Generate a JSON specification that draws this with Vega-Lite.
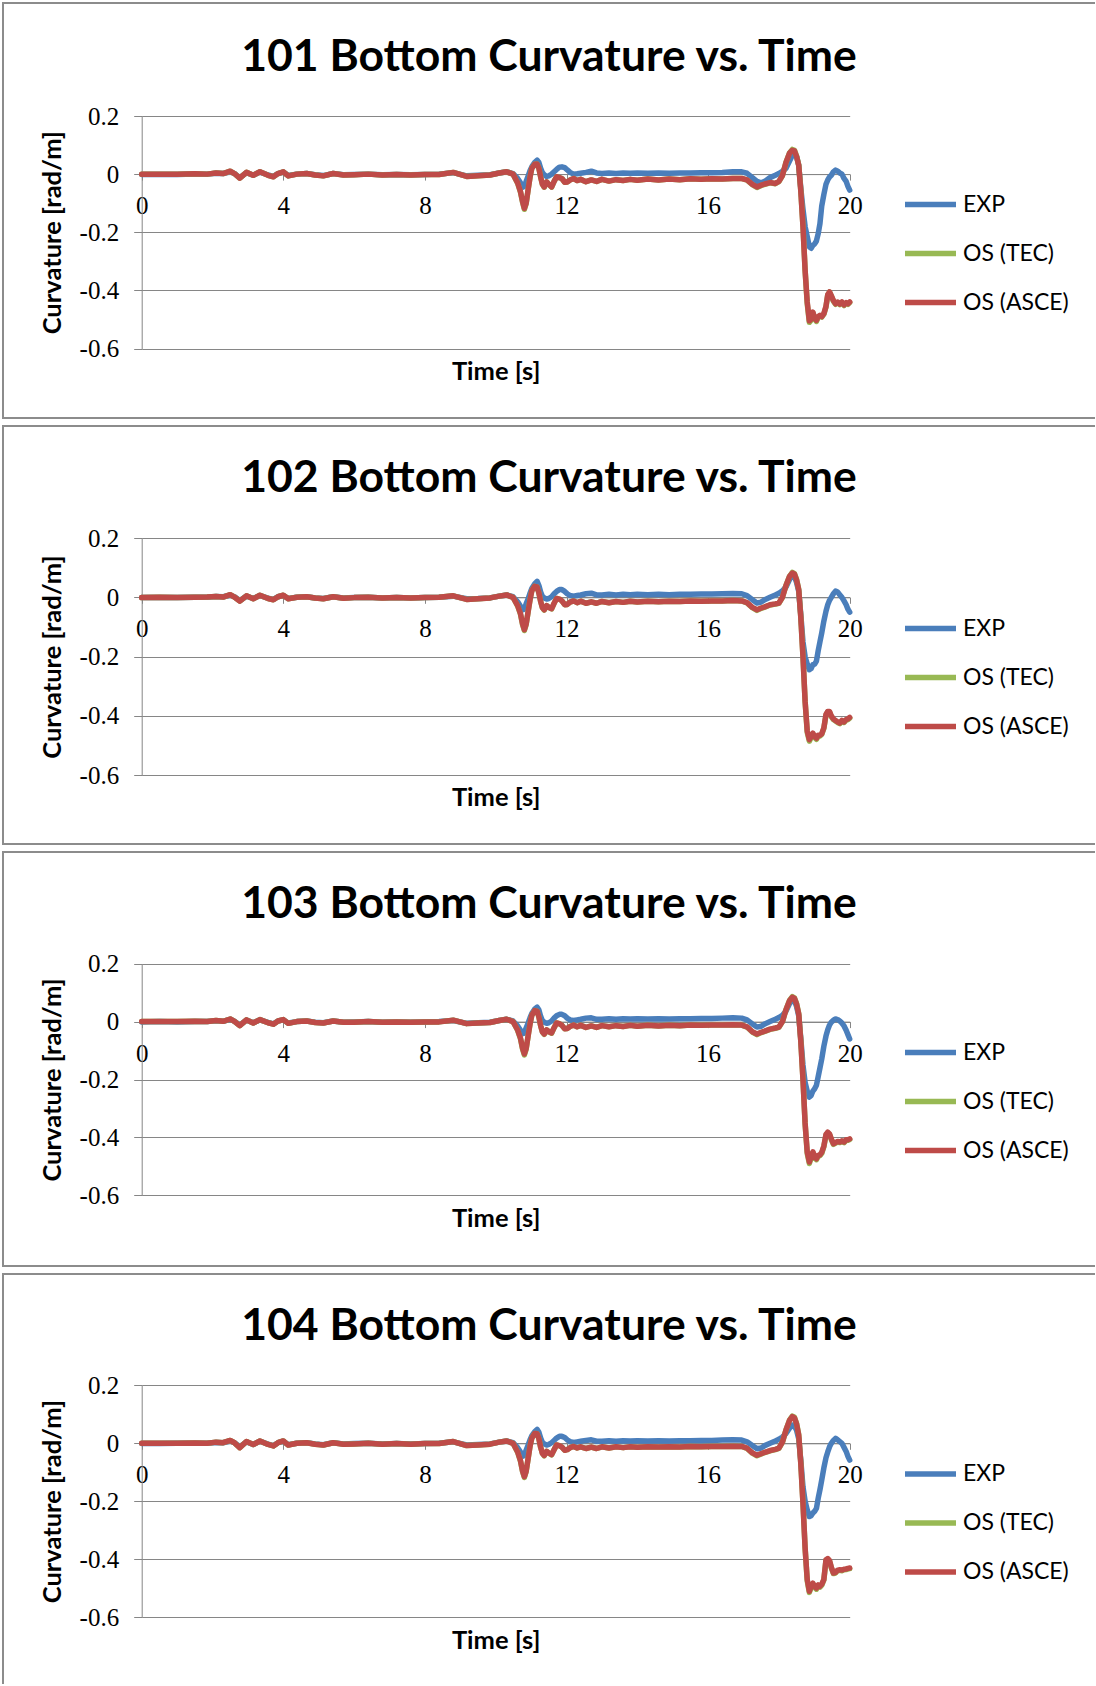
{
"$schema": "https://vega.github.io/schema/vega-lite/v6.json",
"padding": {"left": 2, "top": 2, "right": 0, "bottom": 0},
"background": "white",
"spacing": 6,
"resolve": {"scale": {"color": "independent", "x": "independent", "y": "independent"}},
"config": {
  "view": {"stroke": "#8c8c8c", "strokeWidth": 2},
  "font": "Lato",
  "axis": {"domainColor": "#868686", "tickColor": "#868686", "gridColor": "#868686", "domainWidth": 1, "tickWidth": 1, "gridWidth": 1, "gridOpacity": 1, "labelFont": "Liberation Serif", "labelFontSize": 25, "labelColor": "#000000", "titleFont": "Lato", "titleFontSize": 25.5, "titleFontWeight": "bold", "titleColor": "#000000", "labelOverlap": false, "labelFlush": false},
  "legend": {"symbolType": "stroke", "symbolSize": 2601, "symbolStrokeWidth": 5, "clipHeight": 47, "rowPadding": 2, "labelFont": "Lato", "labelFontSize": 23, "labelColor": "#000000", "labelOffset": 4, "padding": 0, "orient": "none"},
  "title": {"font": "Lato", "fontSize": 44.5, "fontWeight": "bold", "color": "#000000", "anchor": "middle", "frame": "group", "offset": 0, "baseline": "alphabetic"},
  "line": {"strokeWidth": 5.5, "strokeJoin": "round", "strokeCap": "round"}
},
"datasets": {
"p1": [
{"t":0,"EXP":-0.001,"TEC":0,"ASCE":0},{"t":0.5,"EXP":-0.001,"TEC":0,"ASCE":0},{"t":1,"EXP":-0.001,"TEC":0,"ASCE":0},{"t":1.5,"EXP":0,"TEC":0.001,"ASCE":0.001},{"t":1.85,"EXP":0,"TEC":0,"ASCE":0},{"t":2.1,"EXP":0.003,"TEC":0.004,"ASCE":0.004},{"t":2.3,"EXP":0.002,"TEC":0.002,"ASCE":0.002},{"t":2.5,"EXP":0.008,"TEC":0.01,"ASCE":0.01},{"t":2.62,"EXP":0.002,"TEC":0.002,"ASCE":0.002},{"t":2.77,"EXP":-0.012,"TEC":-0.014,"ASCE":-0.014},{"t":2.96,"EXP":0.005,"TEC":0.006,"ASCE":0.006},{"t":3.15,"EXP":-0.004,"TEC":-0.004,"ASCE":-0.004},{"t":3.34,"EXP":0.007,"TEC":0.008,"ASCE":0.008},{"t":3.57,"EXP":-0.003,"TEC":-0.004,"ASCE":-0.004},{"t":3.72,"EXP":-0.008,"TEC":-0.009,"ASCE":-0.009},{"t":3.85,"EXP":0.002,"TEC":0.002,"ASCE":0.002},{"t":4,"EXP":0.007,"TEC":0.008,"ASCE":0.008},{"t":4.14,"EXP":-0.005,"TEC":-0.006,"ASCE":-0.006},{"t":4.38,"EXP":0,"TEC":0,"ASCE":0},{"t":4.66,"EXP":0.002,"TEC":0.002,"ASCE":0.002},{"t":4.9,"EXP":-0.002,"TEC":-0.003,"ASCE":-0.003},{"t":5.13,"EXP":-0.005,"TEC":-0.006,"ASCE":-0.006},{"t":5.41,"EXP":0.002,"TEC":0.002,"ASCE":0.002},{"t":5.7,"EXP":-0.002,"TEC":-0.003,"ASCE":-0.003},{"t":6,"EXP":-0.001,"TEC":-0.002,"ASCE":-0.002},{"t":6.4,"EXP":0,"TEC":0,"ASCE":0},{"t":6.8,"EXP":-0.002,"TEC":-0.003,"ASCE":-0.003},{"t":7.2,"EXP":-0.001,"TEC":-0.001,"ASCE":-0.001},{"t":7.6,"EXP":-0.002,"TEC":-0.003,"ASCE":-0.003},{"t":8,"EXP":-0.001,"TEC":-0.001,"ASCE":-0.001},{"t":8.4,"EXP":0,"TEC":-0.001,"ASCE":-0.001},{"t":8.8,"EXP":0.005,"TEC":0.006,"ASCE":0.006},{"t":9.18,"EXP":-0.006,"TEC":-0.008,"ASCE":-0.008},{"t":9.5,"EXP":-0.004,"TEC":-0.006,"ASCE":-0.006},{"t":9.84,"EXP":-0.002,"TEC":-0.003,"ASCE":-0.003},{"t":10.1,"EXP":0.004,"TEC":0.004,"ASCE":0.004},{"t":10.31,"EXP":0.008,"TEC":0.008,"ASCE":0.008},
{"t":10.49,"EXP":0.002,"TEC":0,"ASCE":0},{"t":10.62,"EXP":-0.015,"TEC":-0.031,"ASCE":-0.03},{"t":10.7,"EXP":-0.03,"TEC":-0.062,"ASCE":-0.06},{"t":10.76,"EXP":-0.045,"TEC":-0.097,"ASCE":-0.095},{"t":10.81,"EXP":-0.042,"TEC":-0.121,"ASCE":-0.118},{"t":10.86,"EXP":-0.025,"TEC":-0.102,"ASCE":-0.1},{"t":10.92,"EXP":-0.005,"TEC":-0.051,"ASCE":-0.05},{"t":10.97,"EXP":0.012,"TEC":-0.01,"ASCE":-0.01},{"t":11.02,"EXP":0.025,"TEC":0.02,"ASCE":0.02},{"t":11.1,"EXP":0.04,"TEC":0.034,"ASCE":0.034},{"t":11.17,"EXP":0.048,"TEC":0.035,"ASCE":0.035},{"t":11.22,"EXP":0.04,"TEC":0.02,"ASCE":0.02},{"t":11.27,"EXP":0.02,"TEC":-0.01,"ASCE":-0.01},{"t":11.32,"EXP":0.005,"TEC":-0.035,"ASCE":-0.035},{"t":11.37,"EXP":-0.002,"TEC":-0.045,"ASCE":-0.044},{"t":11.44,"EXP":-0.008,"TEC":-0.027,"ASCE":-0.027},{"t":11.5,"EXP":-0.006,"TEC":-0.035,"ASCE":-0.035},{"t":11.58,"EXP":0,"TEC":-0.045,"ASCE":-0.044},{"t":11.65,"EXP":0.008,"TEC":-0.025,"ASCE":-0.025},{"t":11.72,"EXP":0.016,"TEC":-0.009,"ASCE":-0.009},{"t":11.8,"EXP":0.024,"TEC":-0.012,"ASCE":-0.012},{"t":11.87,"EXP":0.025,"TEC":-0.015,"ASCE":-0.015},{"t":11.95,"EXP":0.022,"TEC":-0.028,"ASCE":-0.028},{"t":12.02,"EXP":0.015,"TEC":-0.027,"ASCE":-0.027},{"t":12.1,"EXP":0.006,"TEC":-0.02,"ASCE":-0.02},{"t":12.2,"EXP":0,"TEC":-0.015,"ASCE":-0.015},{"t":12.3,"EXP":0.001,"TEC":-0.022,"ASCE":-0.022},{"t":12.4,"EXP":0.003,"TEC":-0.018,"ASCE":-0.018},{"t":12.55,"EXP":0.006,"TEC":-0.026,"ASCE":-0.026},{"t":12.7,"EXP":0.01,"TEC":-0.02,"ASCE":-0.02},{"t":12.85,"EXP":0.004,"TEC":-0.025,"ASCE":-0.025},{"t":13,"EXP":0.002,"TEC":-0.018,"ASCE":-0.018},{"t":13.2,"EXP":0.004,"TEC":-0.024,"ASCE":-0.024},{"t":13.4,"EXP":0.002,"TEC":-0.019,"ASCE":-0.019},{"t":13.6,"EXP":0.004,"TEC":-0.022,"ASCE":-0.022},{"t":13.8,"EXP":0.003,"TEC":-0.018,"ASCE":-0.018},{"t":14,"EXP":0.004,"TEC":-0.021,"ASCE":-0.021},{"t":14.3,"EXP":0.003,"TEC":-0.017,"ASCE":-0.017},{"t":14.6,"EXP":0.004,"TEC":-0.02,"ASCE":-0.02},{"t":14.9,"EXP":0.003,"TEC":-0.017,"ASCE":-0.017},{"t":15.2,"EXP":0.004,"TEC":-0.019,"ASCE":-0.019},{"t":15.5,"EXP":0.004,"TEC":-0.016,"ASCE":-0.016},{"t":15.8,"EXP":0.005,"TEC":-0.018,"ASCE":-0.018},{"t":16.1,"EXP":0.005,"TEC":-0.016,"ASCE":-0.016},{"t":16.4,"EXP":0.006,"TEC":-0.017,"ASCE":-0.017},{"t":16.7,"EXP":0.008,"TEC":-0.015,"ASCE":-0.015},{"t":16.95,"EXP":0.008,"TEC":-0.015,"ASCE":-0.015},{"t":17.1,"EXP":0.003,"TEC":-0.021,"ASCE":-0.02},{"t":17.25,"EXP":-0.012,"TEC":-0.036,"ASCE":-0.035},{"t":17.38,"EXP":-0.025,"TEC":-0.046,"ASCE":-0.044},{"t":17.5,"EXP":-0.03,"TEC":-0.039,"ASCE":-0.038},{"t":17.6,"EXP":-0.025,"TEC":-0.035,"ASCE":-0.034},{"t":17.75,"EXP":-0.012,"TEC":-0.03,"ASCE":-0.029},{"t":17.9,"EXP":-0.004,"TEC":-0.033,"ASCE":-0.032},{"t":18,"EXP":0.002,"TEC":-0.026,"ASCE":-0.025},{"t":18.1,"EXP":0.01,"TEC":-0.005,"ASCE":-0.005},{"t":18.2,"EXP":0.02,"TEC":0.04,"ASCE":0.04},{"t":18.3,"EXP":0.045,"TEC":0.073,"ASCE":0.072},{"t":18.38,"EXP":0.065,"TEC":0.085,"ASCE":0.082},{"t":18.44,"EXP":0.07,"TEC":0.082,"ASCE":0.08},{"t":18.5,"EXP":0.06,"TEC":0.062,"ASCE":0.06},{"t":18.56,"EXP":0.03,"TEC":0.032,"ASCE":0.03},{"t":18.62,"EXP":-0.05,"TEC":-0.058,"ASCE":-0.06},{"t":18.68,"EXP":-0.12,"TEC":-0.178,"ASCE":-0.18},{"t":18.74,"EXP":-0.18,"TEC":-0.33,"ASCE":-0.33},{"t":18.8,"EXP":-0.215,"TEC":-0.445,"ASCE":-0.44},{"t":18.86,"EXP":-0.25,"TEC":-0.51,"ASCE":-0.505},{"t":18.91,"EXP":-0.255,"TEC":-0.503,"ASCE":-0.5},{"t":18.96,"EXP":-0.245,"TEC":-0.478,"ASCE":-0.475},{"t":19.01,"EXP":-0.24,"TEC":-0.498,"ASCE":-0.495},{"t":19.06,"EXP":-0.23,"TEC":-0.507,"ASCE":-0.503},{"t":19.11,"EXP":-0.205,"TEC":-0.493,"ASCE":-0.49},{"t":19.16,"EXP":-0.17,"TEC":-0.489,"ASCE":-0.486},{"t":19.21,"EXP":-0.11,"TEC":-0.492,"ASCE":-0.49},{"t":19.27,"EXP":-0.07,"TEC":-0.482,"ASCE":-0.48},{"t":19.33,"EXP":-0.035,"TEC":-0.457,"ASCE":-0.455},{"t":19.38,"EXP":-0.02,"TEC":-0.416,"ASCE":-0.415},{"t":19.43,"EXP":-0.01,"TEC":-0.406,"ASCE":-0.405},{"t":19.48,"EXP":-0.004,"TEC":-0.42,"ASCE":-0.418},{"t":19.54,"EXP":0.008,"TEC":-0.437,"ASCE":-0.435},{"t":19.6,"EXP":0.014,"TEC":-0.448,"ASCE":-0.446},{"t":19.66,"EXP":0.01,"TEC":-0.442,"ASCE":-0.44},{"t":19.72,"EXP":0.004,"TEC":-0.449,"ASCE":-0.447},{"t":19.78,"EXP":0,"TEC":-0.442,"ASCE":-0.44},{"t":19.84,"EXP":-0.015,"TEC":-0.452,"ASCE":-0.45},{"t":19.9,"EXP":-0.025,"TEC":-0.444,"ASCE":-0.442},{"t":19.95,"EXP":-0.042,"TEC":-0.448,"ASCE":-0.446},{"t":20,"EXP":-0.055,"TEC":-0.442,"ASCE":-0.44}
],
"p2": [
{"t":0,"EXP":-0.001,"TEC":-0.001,"ASCE":-0.001},{"t":0.5,"EXP":-0.001,"TEC":0,"ASCE":0},{"t":1,"EXP":-0.001,"TEC":-0.001,"ASCE":-0.001},{"t":1.5,"EXP":0,"TEC":0,"ASCE":0},{"t":1.85,"EXP":0,"TEC":0.001,"ASCE":0.001},{"t":2.1,"EXP":0.003,"TEC":0.003,"ASCE":0.003},{"t":2.3,"EXP":0.002,"TEC":0.001,"ASCE":0.001},{"t":2.5,"EXP":0.007,"TEC":0.009,"ASCE":0.009},{"t":2.62,"EXP":0.002,"TEC":0.001,"ASCE":0.001},{"t":2.77,"EXP":-0.011,"TEC":-0.013,"ASCE":-0.013},{"t":2.96,"EXP":0.004,"TEC":0.005,"ASCE":0.005},{"t":3.15,"EXP":-0.004,"TEC":-0.005,"ASCE":-0.005},{"t":3.34,"EXP":0.006,"TEC":0.007,"ASCE":0.007},{"t":3.57,"EXP":-0.003,"TEC":-0.004,"ASCE":-0.004},{"t":3.72,"EXP":-0.007,"TEC":-0.008,"ASCE":-0.008},{"t":3.85,"EXP":0.002,"TEC":0.002,"ASCE":0.002},{"t":4,"EXP":0.006,"TEC":0.007,"ASCE":0.007},{"t":4.14,"EXP":-0.004,"TEC":-0.005,"ASCE":-0.005},{"t":4.38,"EXP":0,"TEC":0,"ASCE":0},{"t":4.66,"EXP":0.002,"TEC":0.002,"ASCE":0.002},{"t":4.9,"EXP":-0.002,"TEC":-0.002,"ASCE":-0.002},{"t":5.13,"EXP":-0.004,"TEC":-0.005,"ASCE":-0.005},{"t":5.41,"EXP":0.002,"TEC":0.002,"ASCE":0.002},{"t":5.7,"EXP":-0.002,"TEC":-0.003,"ASCE":-0.003},{"t":6,"EXP":-0.001,"TEC":-0.001,"ASCE":-0.001},{"t":6.4,"EXP":0,"TEC":0,"ASCE":0},{"t":6.8,"EXP":-0.002,"TEC":-0.002,"ASCE":-0.002},{"t":7.2,"EXP":-0.001,"TEC":-0.001,"ASCE":-0.001},{"t":7.6,"EXP":-0.002,"TEC":-0.002,"ASCE":-0.002},{"t":8,"EXP":-0.001,"TEC":-0.001,"ASCE":-0.001},{"t":8.4,"EXP":0,"TEC":0,"ASCE":0},{"t":8.8,"EXP":0.004,"TEC":0.005,"ASCE":0.005},{"t":9.18,"EXP":-0.005,"TEC":-0.007,"ASCE":-0.007},{"t":9.5,"EXP":-0.004,"TEC":-0.005,"ASCE":-0.005},{"t":9.84,"EXP":-0.002,"TEC":-0.002,"ASCE":-0.002},{"t":10.1,"EXP":0.004,"TEC":0.004,"ASCE":0.004},{"t":10.31,"EXP":0.008,"TEC":0.008,"ASCE":0.008},
{"t":10.49,"EXP":0.002,"TEC":0,"ASCE":0},{"t":10.62,"EXP":-0.015,"TEC":-0.029,"ASCE":-0.028},{"t":10.7,"EXP":-0.03,"TEC":-0.057,"ASCE":-0.055},{"t":10.76,"EXP":-0.042,"TEC":-0.092,"ASCE":-0.09},{"t":10.81,"EXP":-0.04,"TEC":-0.112,"ASCE":-0.109},{"t":10.86,"EXP":-0.022,"TEC":-0.092,"ASCE":-0.09},{"t":10.92,"EXP":-0.004,"TEC":-0.046,"ASCE":-0.045},{"t":10.97,"EXP":0.014,"TEC":-0.008,"ASCE":-0.008},{"t":11.02,"EXP":0.03,"TEC":0.022,"ASCE":0.022},{"t":11.1,"EXP":0.045,"TEC":0.037,"ASCE":0.037},{"t":11.17,"EXP":0.054,"TEC":0.035,"ASCE":0.035},{"t":11.22,"EXP":0.04,"TEC":0.015,"ASCE":0.015},{"t":11.27,"EXP":0.018,"TEC":-0.014,"ASCE":-0.014},{"t":11.32,"EXP":0.003,"TEC":-0.035,"ASCE":-0.035},{"t":11.37,"EXP":-0.002,"TEC":-0.043,"ASCE":-0.042},{"t":11.44,"EXP":-0.006,"TEC":-0.028,"ASCE":-0.028},{"t":11.5,"EXP":-0.004,"TEC":-0.034,"ASCE":-0.034},{"t":11.58,"EXP":0.002,"TEC":-0.039,"ASCE":-0.038},{"t":11.65,"EXP":0.012,"TEC":-0.02,"ASCE":-0.02},{"t":11.72,"EXP":0.02,"TEC":-0.004,"ASCE":-0.004},{"t":11.8,"EXP":0.026,"TEC":-0.006,"ASCE":-0.006},{"t":11.87,"EXP":0.026,"TEC":-0.012,"ASCE":-0.012},{"t":11.95,"EXP":0.02,"TEC":-0.025,"ASCE":-0.025},{"t":12.02,"EXP":0.012,"TEC":-0.024,"ASCE":-0.024},{"t":12.1,"EXP":0.006,"TEC":-0.016,"ASCE":-0.016},{"t":12.2,"EXP":0.004,"TEC":-0.012,"ASCE":-0.012},{"t":12.3,"EXP":0.006,"TEC":-0.018,"ASCE":-0.018},{"t":12.4,"EXP":0.008,"TEC":-0.013,"ASCE":-0.013},{"t":12.55,"EXP":0.012,"TEC":-0.02,"ASCE":-0.02},{"t":12.7,"EXP":0.014,"TEC":-0.015,"ASCE":-0.015},{"t":12.85,"EXP":0.008,"TEC":-0.02,"ASCE":-0.02},{"t":13,"EXP":0.008,"TEC":-0.014,"ASCE":-0.014},{"t":13.2,"EXP":0.01,"TEC":-0.018,"ASCE":-0.018},{"t":13.4,"EXP":0.008,"TEC":-0.014,"ASCE":-0.014},{"t":13.6,"EXP":0.01,"TEC":-0.017,"ASCE":-0.017},{"t":13.8,"EXP":0.009,"TEC":-0.013,"ASCE":-0.013},{"t":14,"EXP":0.01,"TEC":-0.016,"ASCE":-0.016},{"t":14.3,"EXP":0.009,"TEC":-0.013,"ASCE":-0.013},{"t":14.6,"EXP":0.01,"TEC":-0.015,"ASCE":-0.015},{"t":14.9,"EXP":0.009,"TEC":-0.013,"ASCE":-0.013},{"t":15.2,"EXP":0.01,"TEC":-0.014,"ASCE":-0.014},{"t":15.5,"EXP":0.01,"TEC":-0.012,"ASCE":-0.012},{"t":15.8,"EXP":0.011,"TEC":-0.013,"ASCE":-0.013},{"t":16.1,"EXP":0.011,"TEC":-0.012,"ASCE":-0.012},{"t":16.4,"EXP":0.012,"TEC":-0.012,"ASCE":-0.012},{"t":16.7,"EXP":0.013,"TEC":-0.011,"ASCE":-0.011},{"t":16.95,"EXP":0.012,"TEC":-0.012,"ASCE":-0.012},{"t":17.1,"EXP":0.006,"TEC":-0.019,"ASCE":-0.018},{"t":17.25,"EXP":-0.008,"TEC":-0.035,"ASCE":-0.034},{"t":17.38,"EXP":-0.019,"TEC":-0.044,"ASCE":-0.042},{"t":17.5,"EXP":-0.016,"TEC":-0.037,"ASCE":-0.036},{"t":17.6,"EXP":-0.008,"TEC":-0.033,"ASCE":-0.032},{"t":17.75,"EXP":0,"TEC":-0.026,"ASCE":-0.025},{"t":17.9,"EXP":0.008,"TEC":-0.023,"ASCE":-0.022},{"t":18,"EXP":0.014,"TEC":-0.02,"ASCE":-0.019},{"t":18.1,"EXP":0.022,"TEC":0,"ASCE":0},{"t":18.2,"EXP":0.035,"TEC":0.04,"ASCE":0.04},{"t":18.3,"EXP":0.06,"TEC":0.071,"ASCE":0.07},{"t":18.38,"EXP":0.075,"TEC":0.084,"ASCE":0.082},{"t":18.44,"EXP":0.07,"TEC":0.08,"ASCE":0.078},{"t":18.5,"EXP":0.05,"TEC":0.06,"ASCE":0.058},{"t":18.56,"EXP":0.02,"TEC":0.027,"ASCE":0.025},{"t":18.62,"EXP":-0.06,"TEC":-0.068,"ASCE":-0.07},{"t":18.68,"EXP":-0.15,"TEC":-0.198,"ASCE":-0.2},{"t":18.74,"EXP":-0.2,"TEC":-0.35,"ASCE":-0.35},{"t":18.8,"EXP":-0.225,"TEC":-0.455,"ASCE":-0.45},{"t":18.86,"EXP":-0.244,"TEC":-0.485,"ASCE":-0.48},{"t":18.91,"EXP":-0.24,"TEC":-0.473,"ASCE":-0.47},{"t":18.96,"EXP":-0.227,"TEC":-0.461,"ASCE":-0.458},{"t":19.01,"EXP":-0.225,"TEC":-0.473,"ASCE":-0.47},{"t":19.06,"EXP":-0.215,"TEC":-0.479,"ASCE":-0.475},{"t":19.11,"EXP":-0.18,"TEC":-0.468,"ASCE":-0.465},{"t":19.16,"EXP":-0.15,"TEC":-0.468,"ASCE":-0.465},{"t":19.21,"EXP":-0.12,"TEC":-0.462,"ASCE":-0.46},{"t":19.27,"EXP":-0.08,"TEC":-0.442,"ASCE":-0.44},{"t":19.33,"EXP":-0.047,"TEC":-0.397,"ASCE":-0.395},{"t":19.38,"EXP":-0.025,"TEC":-0.386,"ASCE":-0.385},{"t":19.43,"EXP":-0.01,"TEC":-0.387,"ASCE":-0.385},{"t":19.48,"EXP":0,"TEC":-0.402,"ASCE":-0.4},{"t":19.54,"EXP":0.012,"TEC":-0.412,"ASCE":-0.41},{"t":19.6,"EXP":0.021,"TEC":-0.417,"ASCE":-0.415},{"t":19.66,"EXP":0.018,"TEC":-0.422,"ASCE":-0.42},{"t":19.72,"EXP":0.008,"TEC":-0.426,"ASCE":-0.424},{"t":19.78,"EXP":0,"TEC":-0.417,"ASCE":-0.415},{"t":19.84,"EXP":-0.012,"TEC":-0.422,"ASCE":-0.42},{"t":19.9,"EXP":-0.025,"TEC":-0.414,"ASCE":-0.412},{"t":19.95,"EXP":-0.04,"TEC":-0.412,"ASCE":-0.41},{"t":20,"EXP":-0.05,"TEC":-0.407,"ASCE":-0.405}
],
"p3": [
{"t":0,"EXP":-0.001,"TEC":0,"ASCE":0},{"t":0.5,"EXP":0,"TEC":0,"ASCE":0},{"t":1,"EXP":-0.001,"TEC":0,"ASCE":0},{"t":1.5,"EXP":0,"TEC":0.001,"ASCE":0.001},{"t":1.85,"EXP":0,"TEC":0,"ASCE":0},{"t":2.1,"EXP":0.003,"TEC":0.004,"ASCE":0.004},{"t":2.3,"EXP":0.001,"TEC":0.001,"ASCE":0.001},{"t":2.5,"EXP":0.008,"TEC":0.009,"ASCE":0.009},{"t":2.62,"EXP":0.001,"TEC":0.001,"ASCE":0.001},{"t":2.77,"EXP":-0.012,"TEC":-0.014,"ASCE":-0.014},{"t":2.96,"EXP":0.005,"TEC":0.006,"ASCE":0.006},{"t":3.15,"EXP":-0.004,"TEC":-0.005,"ASCE":-0.005},{"t":3.34,"EXP":0.006,"TEC":0.007,"ASCE":0.007},{"t":3.57,"EXP":-0.003,"TEC":-0.004,"ASCE":-0.004},{"t":3.72,"EXP":-0.008,"TEC":-0.009,"ASCE":-0.009},{"t":3.85,"EXP":0.002,"TEC":0.002,"ASCE":0.002},{"t":4,"EXP":0.006,"TEC":0.007,"ASCE":0.007},{"t":4.14,"EXP":-0.005,"TEC":-0.006,"ASCE":-0.006},{"t":4.38,"EXP":0,"TEC":0,"ASCE":0},{"t":4.66,"EXP":0.002,"TEC":0.002,"ASCE":0.002},{"t":4.9,"EXP":-0.002,"TEC":-0.003,"ASCE":-0.003},{"t":5.13,"EXP":-0.004,"TEC":-0.005,"ASCE":-0.005},{"t":5.41,"EXP":0.002,"TEC":0.002,"ASCE":0.002},{"t":5.7,"EXP":-0.002,"TEC":-0.002,"ASCE":-0.002},{"t":6,"EXP":-0.001,"TEC":-0.002,"ASCE":-0.002},{"t":6.4,"EXP":0,"TEC":0,"ASCE":0},{"t":6.8,"EXP":-0.002,"TEC":-0.002,"ASCE":-0.002},{"t":7.2,"EXP":-0.001,"TEC":-0.001,"ASCE":-0.001},{"t":7.6,"EXP":-0.002,"TEC":-0.002,"ASCE":-0.002},{"t":8,"EXP":-0.001,"TEC":-0.001,"ASCE":-0.001},{"t":8.4,"EXP":0,"TEC":-0.001,"ASCE":-0.001},{"t":8.8,"EXP":0.004,"TEC":0.005,"ASCE":0.005},{"t":9.18,"EXP":-0.006,"TEC":-0.007,"ASCE":-0.007},{"t":9.5,"EXP":-0.004,"TEC":-0.005,"ASCE":-0.005},{"t":9.84,"EXP":-0.002,"TEC":-0.003,"ASCE":-0.003},{"t":10.1,"EXP":0.004,"TEC":0.004,"ASCE":0.004},{"t":10.31,"EXP":0.008,"TEC":0.008,"ASCE":0.008},
{"t":10.49,"EXP":0.002,"TEC":0,"ASCE":0},{"t":10.62,"EXP":-0.015,"TEC":-0.03,"ASCE":-0.029},{"t":10.7,"EXP":-0.03,"TEC":-0.059,"ASCE":-0.057},{"t":10.76,"EXP":-0.042,"TEC":-0.095,"ASCE":-0.093},{"t":10.81,"EXP":-0.04,"TEC":-0.115,"ASCE":-0.112},{"t":10.86,"EXP":-0.022,"TEC":-0.095,"ASCE":-0.093},{"t":10.92,"EXP":-0.004,"TEC":-0.047,"ASCE":-0.046},{"t":10.97,"EXP":0.013,"TEC":-0.008,"ASCE":-0.008},{"t":11.02,"EXP":0.028,"TEC":0.022,"ASCE":0.022},{"t":11.1,"EXP":0.043,"TEC":0.038,"ASCE":0.038},{"t":11.17,"EXP":0.05,"TEC":0.036,"ASCE":0.036},{"t":11.22,"EXP":0.04,"TEC":0.016,"ASCE":0.016},{"t":11.27,"EXP":0.018,"TEC":-0.014,"ASCE":-0.014},{"t":11.32,"EXP":0.003,"TEC":-0.036,"ASCE":-0.036},{"t":11.37,"EXP":-0.002,"TEC":-0.044,"ASCE":-0.043},{"t":11.44,"EXP":-0.006,"TEC":-0.029,"ASCE":-0.029},{"t":11.5,"EXP":-0.004,"TEC":-0.035,"ASCE":-0.035},{"t":11.58,"EXP":0.002,"TEC":-0.04,"ASCE":-0.039},{"t":11.65,"EXP":0.012,"TEC":-0.021,"ASCE":-0.021},{"t":11.72,"EXP":0.02,"TEC":-0.005,"ASCE":-0.005},{"t":11.8,"EXP":0.025,"TEC":-0.007,"ASCE":-0.007},{"t":11.87,"EXP":0.025,"TEC":-0.013,"ASCE":-0.013},{"t":11.95,"EXP":0.02,"TEC":-0.025,"ASCE":-0.025},{"t":12.02,"EXP":0.012,"TEC":-0.024,"ASCE":-0.024},{"t":12.1,"EXP":0.006,"TEC":-0.017,"ASCE":-0.017},{"t":12.2,"EXP":0.004,"TEC":-0.012,"ASCE":-0.012},{"t":12.3,"EXP":0.006,"TEC":-0.018,"ASCE":-0.018},{"t":12.4,"EXP":0.008,"TEC":-0.013,"ASCE":-0.013},{"t":12.55,"EXP":0.012,"TEC":-0.02,"ASCE":-0.02},{"t":12.7,"EXP":0.013,"TEC":-0.015,"ASCE":-0.015},{"t":12.85,"EXP":0.008,"TEC":-0.02,"ASCE":-0.02},{"t":13,"EXP":0.008,"TEC":-0.014,"ASCE":-0.014},{"t":13.2,"EXP":0.01,"TEC":-0.018,"ASCE":-0.018},{"t":13.4,"EXP":0.008,"TEC":-0.014,"ASCE":-0.014},{"t":13.6,"EXP":0.01,"TEC":-0.017,"ASCE":-0.017},{"t":13.8,"EXP":0.009,"TEC":-0.013,"ASCE":-0.013},{"t":14,"EXP":0.01,"TEC":-0.016,"ASCE":-0.016},{"t":14.3,"EXP":0.009,"TEC":-0.013,"ASCE":-0.013},{"t":14.6,"EXP":0.01,"TEC":-0.015,"ASCE":-0.015},{"t":14.9,"EXP":0.009,"TEC":-0.013,"ASCE":-0.013},{"t":15.2,"EXP":0.01,"TEC":-0.014,"ASCE":-0.014},{"t":15.5,"EXP":0.01,"TEC":-0.012,"ASCE":-0.012},{"t":15.8,"EXP":0.011,"TEC":-0.013,"ASCE":-0.013},{"t":16.1,"EXP":0.011,"TEC":-0.012,"ASCE":-0.012},{"t":16.4,"EXP":0.012,"TEC":-0.012,"ASCE":-0.012},{"t":16.7,"EXP":0.013,"TEC":-0.011,"ASCE":-0.011},{"t":16.95,"EXP":0.012,"TEC":-0.012,"ASCE":-0.012},{"t":17.1,"EXP":0.006,"TEC":-0.019,"ASCE":-0.018},{"t":17.25,"EXP":-0.008,"TEC":-0.036,"ASCE":-0.035},{"t":17.38,"EXP":-0.019,"TEC":-0.045,"ASCE":-0.043},{"t":17.5,"EXP":-0.016,"TEC":-0.038,"ASCE":-0.037},{"t":17.6,"EXP":-0.008,"TEC":-0.034,"ASCE":-0.033},{"t":17.75,"EXP":0,"TEC":-0.027,"ASCE":-0.026},{"t":17.9,"EXP":0.008,"TEC":-0.023,"ASCE":-0.022},{"t":18,"EXP":0.014,"TEC":-0.02,"ASCE":-0.019},{"t":18.1,"EXP":0.022,"TEC":0,"ASCE":0},{"t":18.2,"EXP":0.036,"TEC":0.041,"ASCE":0.041},{"t":18.3,"EXP":0.062,"TEC":0.073,"ASCE":0.072},{"t":18.38,"EXP":0.077,"TEC":0.086,"ASCE":0.084},{"t":18.44,"EXP":0.072,"TEC":0.082,"ASCE":0.08},{"t":18.5,"EXP":0.052,"TEC":0.062,"ASCE":0.06},{"t":18.56,"EXP":0.02,"TEC":0.028,"ASCE":0.026},{"t":18.62,"EXP":-0.06,"TEC":-0.068,"ASCE":-0.07},{"t":18.68,"EXP":-0.15,"TEC":-0.198,"ASCE":-0.2},{"t":18.74,"EXP":-0.21,"TEC":-0.352,"ASCE":-0.35},{"t":18.8,"EXP":-0.24,"TEC":-0.455,"ASCE":-0.45},{"t":18.86,"EXP":-0.261,"TEC":-0.49,"ASCE":-0.485},{"t":18.91,"EXP":-0.255,"TEC":-0.47,"ASCE":-0.467},{"t":18.96,"EXP":-0.24,"TEC":-0.453,"ASCE":-0.45},{"t":19.01,"EXP":-0.232,"TEC":-0.468,"ASCE":-0.465},{"t":19.06,"EXP":-0.22,"TEC":-0.477,"ASCE":-0.474},{"t":19.11,"EXP":-0.19,"TEC":-0.465,"ASCE":-0.462},{"t":19.16,"EXP":-0.16,"TEC":-0.463,"ASCE":-0.46},{"t":19.21,"EXP":-0.129,"TEC":-0.455,"ASCE":-0.452},{"t":19.27,"EXP":-0.085,"TEC":-0.432,"ASCE":-0.43},{"t":19.33,"EXP":-0.05,"TEC":-0.392,"ASCE":-0.39},{"t":19.38,"EXP":-0.028,"TEC":-0.384,"ASCE":-0.382},{"t":19.43,"EXP":-0.012,"TEC":-0.39,"ASCE":-0.388},{"t":19.48,"EXP":-0.002,"TEC":-0.407,"ASCE":-0.405},{"t":19.54,"EXP":0.005,"TEC":-0.424,"ASCE":-0.422},{"t":19.6,"EXP":0.009,"TEC":-0.42,"ASCE":-0.418},{"t":19.66,"EXP":0.007,"TEC":-0.416,"ASCE":-0.414},{"t":19.72,"EXP":0.002,"TEC":-0.418,"ASCE":-0.416},{"t":19.78,"EXP":-0.005,"TEC":-0.414,"ASCE":-0.412},{"t":19.84,"EXP":-0.015,"TEC":-0.418,"ASCE":-0.416},{"t":19.9,"EXP":-0.03,"TEC":-0.41,"ASCE":-0.408},{"t":19.95,"EXP":-0.045,"TEC":-0.41,"ASCE":-0.408},{"t":20,"EXP":-0.06,"TEC":-0.407,"ASCE":-0.405}
],
"p4": [
{"t":0,"EXP":-0.001,"TEC":0,"ASCE":0},{"t":0.5,"EXP":-0.001,"TEC":0,"ASCE":0},{"t":1,"EXP":0,"TEC":0,"ASCE":0},{"t":1.5,"EXP":0,"TEC":0.001,"ASCE":0.001},{"t":1.85,"EXP":0,"TEC":0,"ASCE":0},{"t":2.1,"EXP":0.003,"TEC":0.004,"ASCE":0.004},{"t":2.3,"EXP":0.002,"TEC":0.002,"ASCE":0.002},{"t":2.5,"EXP":0.008,"TEC":0.01,"ASCE":0.01},{"t":2.62,"EXP":0.002,"TEC":0.002,"ASCE":0.002},{"t":2.77,"EXP":-0.012,"TEC":-0.015,"ASCE":-0.015},{"t":2.96,"EXP":0.005,"TEC":0.006,"ASCE":0.006},{"t":3.15,"EXP":-0.004,"TEC":-0.004,"ASCE":-0.004},{"t":3.34,"EXP":0.007,"TEC":0.008,"ASCE":0.008},{"t":3.57,"EXP":-0.003,"TEC":-0.004,"ASCE":-0.004},{"t":3.72,"EXP":-0.008,"TEC":-0.009,"ASCE":-0.009},{"t":3.85,"EXP":0.002,"TEC":0.002,"ASCE":0.002},{"t":4,"EXP":0.007,"TEC":0.008,"ASCE":0.008},{"t":4.14,"EXP":-0.005,"TEC":-0.006,"ASCE":-0.006},{"t":4.38,"EXP":0,"TEC":0,"ASCE":0},{"t":4.66,"EXP":0.002,"TEC":0.002,"ASCE":0.002},{"t":4.9,"EXP":-0.002,"TEC":-0.003,"ASCE":-0.003},{"t":5.13,"EXP":-0.005,"TEC":-0.006,"ASCE":-0.006},{"t":5.41,"EXP":0.002,"TEC":0.002,"ASCE":0.002},{"t":5.7,"EXP":-0.002,"TEC":-0.003,"ASCE":-0.003},{"t":6,"EXP":-0.001,"TEC":-0.002,"ASCE":-0.002},{"t":6.4,"EXP":0,"TEC":0,"ASCE":0},{"t":6.8,"EXP":-0.002,"TEC":-0.003,"ASCE":-0.003},{"t":7.2,"EXP":-0.001,"TEC":-0.001,"ASCE":-0.001},{"t":7.6,"EXP":-0.002,"TEC":-0.003,"ASCE":-0.003},{"t":8,"EXP":-0.001,"TEC":-0.001,"ASCE":-0.001},{"t":8.4,"EXP":0,"TEC":-0.001,"ASCE":-0.001},{"t":8.8,"EXP":0.005,"TEC":0.006,"ASCE":0.006},{"t":9.18,"EXP":-0.006,"TEC":-0.008,"ASCE":-0.008},{"t":9.5,"EXP":-0.004,"TEC":-0.006,"ASCE":-0.006},{"t":9.84,"EXP":-0.002,"TEC":-0.003,"ASCE":-0.003},{"t":10.1,"EXP":0.004,"TEC":0.004,"ASCE":0.004},{"t":10.31,"EXP":0.008,"TEC":0.008,"ASCE":0.008},
{"t":10.49,"EXP":0.002,"TEC":0,"ASCE":0},{"t":10.62,"EXP":-0.015,"TEC":-0.031,"ASCE":-0.03},{"t":10.7,"EXP":-0.03,"TEC":-0.062,"ASCE":-0.06},{"t":10.76,"EXP":-0.045,"TEC":-0.098,"ASCE":-0.096},{"t":10.81,"EXP":-0.042,"TEC":-0.118,"ASCE":-0.115},{"t":10.86,"EXP":-0.024,"TEC":-0.098,"ASCE":-0.096},{"t":10.92,"EXP":-0.005,"TEC":-0.05,"ASCE":-0.049},{"t":10.97,"EXP":0.012,"TEC":-0.01,"ASCE":-0.01},{"t":11.02,"EXP":0.026,"TEC":0.018,"ASCE":0.018},{"t":11.1,"EXP":0.04,"TEC":0.034,"ASCE":0.034},{"t":11.17,"EXP":0.048,"TEC":0.033,"ASCE":0.033},{"t":11.22,"EXP":0.038,"TEC":0.016,"ASCE":0.016},{"t":11.27,"EXP":0.018,"TEC":-0.014,"ASCE":-0.014},{"t":11.32,"EXP":0.003,"TEC":-0.035,"ASCE":-0.035},{"t":11.37,"EXP":-0.002,"TEC":-0.043,"ASCE":-0.042},{"t":11.44,"EXP":-0.006,"TEC":-0.028,"ASCE":-0.028},{"t":11.5,"EXP":-0.004,"TEC":-0.034,"ASCE":-0.034},{"t":11.58,"EXP":0.002,"TEC":-0.04,"ASCE":-0.039},{"t":11.65,"EXP":0.01,"TEC":-0.022,"ASCE":-0.022},{"t":11.72,"EXP":0.018,"TEC":-0.006,"ASCE":-0.006},{"t":11.8,"EXP":0.024,"TEC":-0.008,"ASCE":-0.008},{"t":11.87,"EXP":0.024,"TEC":-0.013,"ASCE":-0.013},{"t":11.95,"EXP":0.02,"TEC":-0.024,"ASCE":-0.024},{"t":12.02,"EXP":0.012,"TEC":-0.022,"ASCE":-0.022},{"t":12.1,"EXP":0.006,"TEC":-0.015,"ASCE":-0.015},{"t":12.2,"EXP":0.003,"TEC":-0.011,"ASCE":-0.011},{"t":12.3,"EXP":0.005,"TEC":-0.016,"ASCE":-0.016},{"t":12.4,"EXP":0.007,"TEC":-0.012,"ASCE":-0.012},{"t":12.55,"EXP":0.01,"TEC":-0.018,"ASCE":-0.018},{"t":12.7,"EXP":0.012,"TEC":-0.013,"ASCE":-0.013},{"t":12.85,"EXP":0.007,"TEC":-0.018,"ASCE":-0.018},{"t":13,"EXP":0.007,"TEC":-0.012,"ASCE":-0.012},{"t":13.2,"EXP":0.009,"TEC":-0.016,"ASCE":-0.016},{"t":13.4,"EXP":0.007,"TEC":-0.012,"ASCE":-0.012},{"t":13.6,"EXP":0.009,"TEC":-0.015,"ASCE":-0.015},{"t":13.8,"EXP":0.008,"TEC":-0.012,"ASCE":-0.012},{"t":14,"EXP":0.009,"TEC":-0.014,"ASCE":-0.014},{"t":14.3,"EXP":0.008,"TEC":-0.012,"ASCE":-0.012},{"t":14.6,"EXP":0.009,"TEC":-0.013,"ASCE":-0.013},{"t":14.9,"EXP":0.008,"TEC":-0.012,"ASCE":-0.012},{"t":15.2,"EXP":0.009,"TEC":-0.013,"ASCE":-0.013},{"t":15.5,"EXP":0.009,"TEC":-0.011,"ASCE":-0.011},{"t":15.8,"EXP":0.01,"TEC":-0.012,"ASCE":-0.012},{"t":16.1,"EXP":0.01,"TEC":-0.011,"ASCE":-0.011},{"t":16.4,"EXP":0.011,"TEC":-0.011,"ASCE":-0.011},{"t":16.7,"EXP":0.012,"TEC":-0.01,"ASCE":-0.01},{"t":16.95,"EXP":0.011,"TEC":-0.011,"ASCE":-0.011},{"t":17.1,"EXP":0.005,"TEC":-0.018,"ASCE":-0.017},{"t":17.25,"EXP":-0.008,"TEC":-0.034,"ASCE":-0.033},{"t":17.38,"EXP":-0.019,"TEC":-0.043,"ASCE":-0.041},{"t":17.5,"EXP":-0.016,"TEC":-0.037,"ASCE":-0.036},{"t":17.6,"EXP":-0.008,"TEC":-0.032,"ASCE":-0.031},{"t":17.75,"EXP":0,"TEC":-0.026,"ASCE":-0.025},{"t":17.9,"EXP":0.008,"TEC":-0.022,"ASCE":-0.021},{"t":18,"EXP":0.014,"TEC":-0.018,"ASCE":-0.017},{"t":18.1,"EXP":0.022,"TEC":0.004,"ASCE":0.004},{"t":18.2,"EXP":0.034,"TEC":0.046,"ASCE":0.046},{"t":18.3,"EXP":0.052,"TEC":0.08,"ASCE":0.079},{"t":18.38,"EXP":0.063,"TEC":0.094,"ASCE":0.092},{"t":18.44,"EXP":0.06,"TEC":0.09,"ASCE":0.088},{"t":18.5,"EXP":0.045,"TEC":0.068,"ASCE":0.066},{"t":18.56,"EXP":0.015,"TEC":0.03,"ASCE":0.028},{"t":18.62,"EXP":-0.06,"TEC":-0.07,"ASCE":-0.072},{"t":18.68,"EXP":-0.15,"TEC":-0.205,"ASCE":-0.207},{"t":18.74,"EXP":-0.2,"TEC":-0.362,"ASCE":-0.36},{"t":18.8,"EXP":-0.23,"TEC":-0.475,"ASCE":-0.47},{"t":18.86,"EXP":-0.253,"TEC":-0.515,"ASCE":-0.511},{"t":18.91,"EXP":-0.25,"TEC":-0.498,"ASCE":-0.495},{"t":18.96,"EXP":-0.241,"TEC":-0.486,"ASCE":-0.483},{"t":19.01,"EXP":-0.235,"TEC":-0.498,"ASCE":-0.495},{"t":19.06,"EXP":-0.225,"TEC":-0.504,"ASCE":-0.5},{"t":19.11,"EXP":-0.19,"TEC":-0.492,"ASCE":-0.489},{"t":19.16,"EXP":-0.16,"TEC":-0.497,"ASCE":-0.494},{"t":19.21,"EXP":-0.127,"TEC":-0.49,"ASCE":-0.487},{"t":19.27,"EXP":-0.085,"TEC":-0.472,"ASCE":-0.47},{"t":19.33,"EXP":-0.05,"TEC":-0.404,"ASCE":-0.402},{"t":19.38,"EXP":-0.03,"TEC":-0.4,"ASCE":-0.398},{"t":19.43,"EXP":-0.012,"TEC":-0.407,"ASCE":-0.405},{"t":19.48,"EXP":0,"TEC":-0.43,"ASCE":-0.428},{"t":19.54,"EXP":0.01,"TEC":-0.45,"ASCE":-0.448},{"t":19.6,"EXP":0.017,"TEC":-0.448,"ASCE":-0.446},{"t":19.66,"EXP":0.012,"TEC":-0.44,"ASCE":-0.438},{"t":19.72,"EXP":0.006,"TEC":-0.439,"ASCE":-0.437},{"t":19.78,"EXP":0,"TEC":-0.44,"ASCE":-0.438},{"t":19.84,"EXP":-0.014,"TEC":-0.437,"ASCE":-0.435},{"t":19.9,"EXP":-0.028,"TEC":-0.436,"ASCE":-0.434},{"t":19.95,"EXP":-0.045,"TEC":-0.434,"ASCE":-0.432},{"t":20,"EXP":-0.058,"TEC":-0.433,"ASCE":-0.431}
]
},
"vconcat": [
{
  "width": 1092, "height": 415,
  "view": {"strokeDash": [1092, 415, 1507, 1]},
  "data": {"name": "p1"},
  "transform": [{"fold": ["EXP", "TEC", "ASCE"], "as": ["series", "v"]}],
  "title": {"text": "101 Bottom Curvature vs. Time", "dy": 81, "dx": 0},
  "mark": {"type": "line", "strokeWidth": 5.5, "strokeJoin": "round", "strokeCap": "round"},
  "encoding": {
    "x": {"field": "t", "type": "quantitative", "scale": {"domain": [0, 20], "range": [138.7, 846.7], "nice": false, "zero": false},
      "axis": {"orient": "bottom", "offset": -243.9, "values": [0, 4, 8, 12, 16, 20], "grid": false, "tickSize": 6, "labelPadding": 13.5, "title": "Time [s]", "titleY": 197, "titleBaseline": "middle"}},
    "y": {"field": "v", "type": "quantitative", "scale": {"domain": [-0.6, 0.2], "range": [345.5, 113], "nice": false, "zero": false},
      "axis": {"orient": "left", "offset": -138.7, "values": [-0.6, -0.4, -0.2, 0, 0.2], "grid": true, "tickSize": 8, "labelPadding": 15, "labelExpr": "datum.value == 0 ? '0' : (datum.value < 0 ? '-' : '') + format(abs(datum.value), '.1f')", "title": "Curvature [rad/m]", "titleX": -89.7, "titleBaseline": "middle"}},
    "color": {"field": "series", "type": "nominal", "scale": {"domain": ["EXP", "TEC", "ASCE"], "range": ["#4A7EBB", "#98B954", "#BE4B48"]},
      "legend": {"title": null, "legendX": 899, "legendY": 178, "labelExpr": "datum.label == 'TEC' ? 'OS (TEC)' : datum.label == 'ASCE' ? 'OS (ASCE)' : datum.label"}}
  }
},
{
  "width": 1092, "height": 418,
  "view": {"strokeDash": [1092, 418, 1510, 1]},
  "data": {"name": "p2"},
  "transform": [{"fold": ["EXP", "TEC", "ASCE"], "as": ["series", "v"]}],
  "title": {"text": "102 Bottom Curvature vs. Time", "dy": 79.6, "dx": 0},
  "mark": {"type": "line", "strokeWidth": 5.5, "strokeJoin": "round", "strokeCap": "round"},
  "encoding": {
    "x": {"field": "t", "type": "quantitative", "scale": {"domain": [0, 20], "range": [138.7, 846.7], "nice": false, "zero": false},
      "axis": {"orient": "bottom", "offset": -246.7, "values": [0, 4, 8, 12, 16, 20], "grid": false, "tickSize": 6, "labelPadding": 13.5, "title": "Time [s]", "titleY": 199.7, "titleBaseline": "middle"}},
    "y": {"field": "v", "type": "quantitative", "scale": {"domain": [-0.6, 0.2], "range": [349.3, 112], "nice": false, "zero": false},
      "axis": {"orient": "left", "offset": -138.7, "values": [-0.6, -0.4, -0.2, 0, 0.2], "grid": true, "tickSize": 8, "labelPadding": 15, "labelExpr": "datum.value == 0 ? '0' : (datum.value < 0 ? '-' : '') + format(abs(datum.value), '.1f')", "title": "Curvature [rad/m]", "titleX": -89.7, "titleBaseline": "middle"}},
    "color": {"field": "series", "type": "nominal", "scale": {"domain": ["EXP", "TEC", "ASCE"], "range": ["#4A7EBB", "#98B954", "#BE4B48"]},
      "legend": {"title": null, "legendX": 899, "legendY": 179, "labelExpr": "datum.label == 'TEC' ? 'OS (TEC)' : datum.label == 'ASCE' ? 'OS (ASCE)' : datum.label"}}
  }
},
{
  "width": 1092, "height": 414,
  "view": {"strokeDash": [1092, 414, 1506, 1]},
  "data": {"name": "p3"},
  "transform": [{"fold": ["EXP", "TEC", "ASCE"], "as": ["series", "v"]}],
  "title": {"text": "103 Bottom Curvature vs. Time", "dy": 79.5, "dx": 0},
  "mark": {"type": "line", "strokeWidth": 5.5, "strokeJoin": "round", "strokeCap": "round"},
  "encoding": {
    "x": {"field": "t", "type": "quantitative", "scale": {"domain": [0, 20], "range": [138.7, 846.7], "nice": false, "zero": false},
      "axis": {"orient": "bottom", "offset": -244.4, "values": [0, 4, 8, 12, 16, 20], "grid": false, "tickSize": 6, "labelPadding": 13.5, "title": "Time [s]", "titleY": 197, "titleBaseline": "middle"}},
    "y": {"field": "v", "type": "quantitative", "scale": {"domain": [-0.6, 0.2], "range": [343.3, 111.7], "nice": false, "zero": false},
      "axis": {"orient": "left", "offset": -138.7, "values": [-0.6, -0.4, -0.2, 0, 0.2], "grid": true, "tickSize": 8, "labelPadding": 15, "labelExpr": "datum.value == 0 ? '0' : (datum.value < 0 ? '-' : '') + format(abs(datum.value), '.1f')", "title": "Curvature [rad/m]", "titleX": -89.7, "titleBaseline": "middle"}},
    "color": {"field": "series", "type": "nominal", "scale": {"domain": ["EXP", "TEC", "ASCE"], "range": ["#4A7EBB", "#98B954", "#BE4B48"]},
      "legend": {"title": null, "legendX": 899, "legendY": 177, "labelExpr": "datum.label == 'TEC' ? 'OS (TEC)' : datum.label == 'ASCE' ? 'OS (ASCE)' : datum.label"}}
  }
},
{
  "width": 1092, "height": 410,
  "view": {"strokeDash": [1092, 1502, 410, 1]},
  "data": {"name": "p4"},
  "transform": [{"fold": ["EXP", "TEC", "ASCE"], "as": ["series", "v"]}],
  "title": {"text": "104 Bottom Curvature vs. Time", "dy": 79, "dx": 0},
  "mark": {"type": "line", "strokeWidth": 5.5, "strokeJoin": "round", "strokeCap": "round"},
  "encoding": {
    "x": {"field": "t", "type": "quantitative", "scale": {"domain": [0, 20], "range": [138.7, 846.7], "nice": false, "zero": false},
      "axis": {"orient": "bottom", "offset": -240.7, "values": [0, 4, 8, 12, 16, 20], "grid": false, "tickSize": 6, "labelPadding": 13.5, "title": "Time [s]", "titleY": 197, "titleBaseline": "middle"}},
    "y": {"field": "v", "type": "quantitative", "scale": {"domain": [-0.6, 0.2], "range": [343, 111.4], "nice": false, "zero": false},
      "axis": {"orient": "left", "offset": -138.7, "values": [-0.6, -0.4, -0.2, 0, 0.2], "grid": true, "tickSize": 8, "labelPadding": 15, "labelExpr": "datum.value == 0 ? '0' : (datum.value < 0 ? '-' : '') + format(abs(datum.value), '.1f')", "title": "Curvature [rad/m]", "titleX": -89.7, "titleBaseline": "middle"}},
    "color": {"field": "series", "type": "nominal", "scale": {"domain": ["EXP", "TEC", "ASCE"], "range": ["#4A7EBB", "#98B954", "#BE4B48"]},
      "legend": {"title": null, "legendX": 899, "legendY": 176.5, "labelExpr": "datum.label == 'TEC' ? 'OS (TEC)' : datum.label == 'ASCE' ? 'OS (ASCE)' : datum.label"}}
  }
}
]
}
